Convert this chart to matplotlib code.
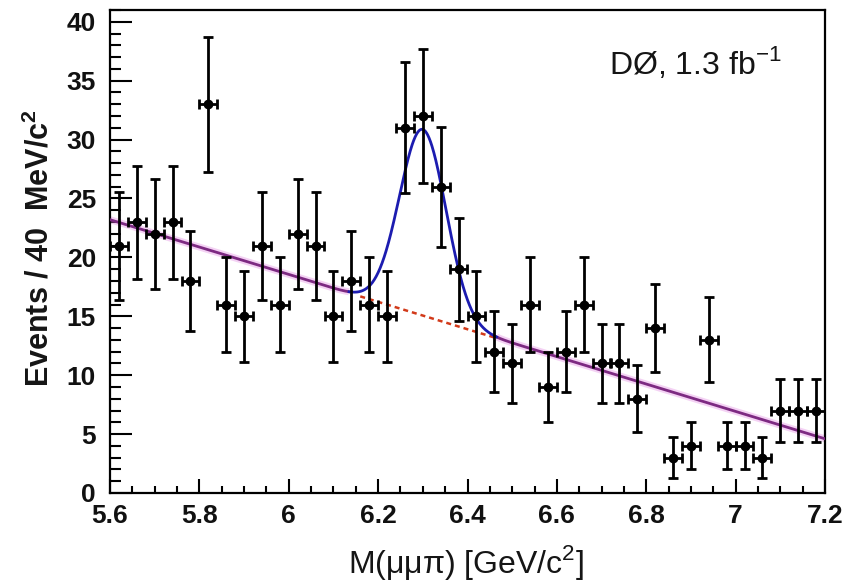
import numpy as np
import matplotlib
matplotlib.use("Agg")
import matplotlib.pyplot as plt
from matplotlib.ticker import MultipleLocator

# ---- data ----
bin_centers = [5.62, 5.66, 5.70, 5.74, 5.78, 5.82, 5.86, 5.90, 5.94, 5.98,
               6.02, 6.06, 6.10, 6.14, 6.18, 6.22, 6.26, 6.30, 6.34, 6.38,
               6.42, 6.46, 6.50, 6.54, 6.58, 6.62, 6.66, 6.70, 6.74, 6.78,
               6.82, 6.86, 6.90, 6.94, 6.98, 7.02, 7.06, 7.10, 7.14, 7.18]
counts = [21, 23, 22, 23, 18, 33, 16, 15, 21, 16,
          22, 21, 15, 18, 16, 15, 31, 32, 26, 19,
          15, 12, 11, 16, 9, 12, 16, 11, 11, 8,
          14, 3, 4, 13, 4, 4, 3, 7, 7, 7]
errors = [4.58, 4.80, 4.69, 4.80, 4.24, 5.74, 4.00, 3.87, 4.58, 4.00,
          4.69, 4.58, 3.87, 4.24, 4.00, 3.87, 5.57, 5.66, 5.10, 4.36,
          3.87, 3.46, 3.32, 4.00, 3.00, 3.46, 4.00, 3.32, 3.32, 2.83,
          3.74, 1.73, 2.00, 3.61, 2.00, 2.00, 1.73, 2.65, 2.65, 2.65]
half_bin = 0.02

# fit model parameters
bkg_x = [5.6, 7.2]
bkg_y = [23.2, 4.6]
peak_mean = 6.30
peak_sigma = 0.052
peak_amp = 15.8
signal_range = [6.135, 6.465]

xticks = [5.6, 5.8, 6.0, 6.2, 6.4, 6.6, 6.8, 7.0, 7.2]
xticklabels = ["5.6", "5.8", "6", "6.2", "6.4", "6.6", "6.8", "7", "7.2"]
yticks = [0, 5, 10, 15, 20, 25, 30, 35, 40]

plt.rcParams['font.family'] = ['Liberation Sans', 'DejaVu Sans']
plt.rcParams['mathtext.fontset'] = 'custom'
plt.rcParams['mathtext.rm'] = 'Liberation Sans'
plt.rcParams['mathtext.bf'] = 'Liberation Sans:bold'

fig = plt.figure(figsize=(8.48, 5.85), dpi=100)
ax = fig.add_axes([110/848, 1-493/585, (825-110)/848, (493-10)/585])

def bkg(x):
    x = np.asarray(x)
    return bkg_y[0] + (bkg_y[1]-bkg_y[0]) * (x - bkg_x[0]) / (bkg_x[1]-bkg_x[0])

def total(x):
    return bkg(x) + peak_amp * np.exp(-0.5 * ((x - peak_mean) / peak_sigma) ** 2)

xs = np.linspace(bkg_x[0], bkg_x[1], 800)
left = xs[xs <= signal_range[0]]
right = xs[xs >= signal_range[1]]
mid = np.linspace(signal_range[0], signal_range[1], 300)

purple = '#7d2a82'
for seg in (left, right):
    ax.plot(seg, total(seg), color='#e080e0', lw=5, alpha=0.35, solid_capstyle='butt', zorder=2)
    ax.plot(seg, total(seg), color=purple, lw=2.0, zorder=3)
ax.plot(mid, total(mid), color='#1c1cb0', lw=2.0, zorder=3)
dash_x = np.linspace(6.16, 6.46, 50)
ax.plot(dash_x, bkg(dash_x), color='#d23a1a', lw=1.8, ls=(0, (2.0, 1.6)), zorder=2)

ax.errorbar(bin_centers, counts, yerr=errors, xerr=half_bin, fmt='o', color='black',
            ms=6, elinewidth=2.0, capsize=3.5, capthick=2.0, zorder=5)

ax.set_xlim(5.6, 7.2)
ax.set_ylim(0, 41)
ax.set_xticks(xticks)
ax.set_xticklabels(xticklabels)
ax.set_yticks(yticks)
ax.xaxis.set_minor_locator(MultipleLocator(0.05))
ax.yaxis.set_minor_locator(MultipleLocator(1))
ax.tick_params(which='both', direction='in', top=False, right=False, width=1.5, color='black')
ax.tick_params(axis='y', which='major', length=16, pad=10)
ax.tick_params(axis='y', which='minor', length=8)
ax.tick_params(axis='x', which='major', length=10, pad=8)
ax.tick_params(axis='x', which='minor', length=5)
for lab in ax.get_xticklabels() + ax.get_yticklabels():
    lab.set_fontsize(19)
    lab.set_fontweight('bold')
    lab.set_color('#111111')
for sp in ax.spines.values():
    sp.set_linewidth(1.6)

ax.text((782-110)/715, 1-(63-10)/483, r'DØ, 1.3 fb$^{\mathregular{-1}}$', transform=ax.transAxes,
        fontsize=23, ha='right', va='center', color='#151515')

fig.text(466/848, 1-562/585, r'M(μμπ) [GeV/c$^{\mathregular{2}}$]', fontsize=23,
         ha='center', va='center', color='#151515')
fig.text(40/848, 1-248/585, r'Events / 40  MeV/c$^{\mathbf{2}}$', fontsize=22,
         fontweight='bold', rotation=90, ha='center', va='center', color='#151515')

fig.savefig('out.png', dpi=100)
